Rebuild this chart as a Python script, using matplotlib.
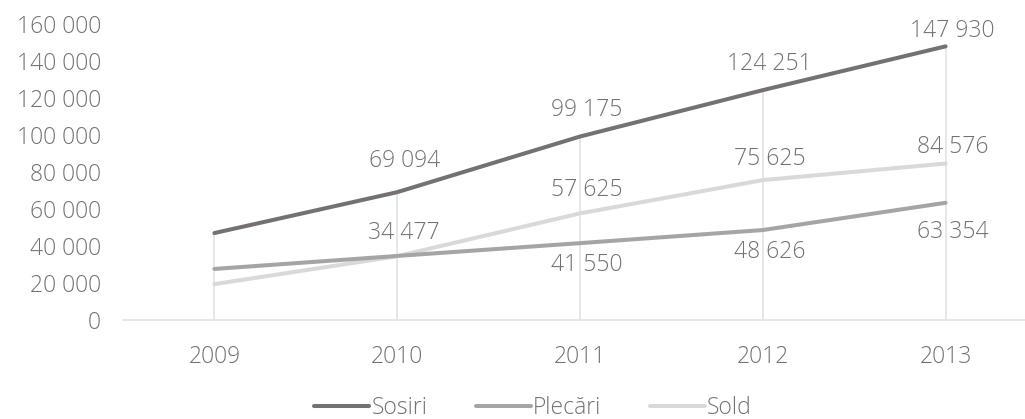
import matplotlib
matplotlib.use("Agg")
import matplotlib.pyplot as plt

years = [2009, 2010, 2011, 2012, 2013]
sosiri = [47000, 69094, 99175, 124251, 147930]
plecari = [27600, 34617, 41550, 48626, 63354]
sold = [19400, 34477, 57625, 75625, 84576]
yticks = [0, 20000, 40000, 60000, 80000, 100000, 120000, 140000, 160000]

# label flags: which points carry a value label
lab_sosiri = [False, True, True, True, True]
lab_plecari = [False, False, True, True, True]
lab_sold = [False, True, True, True, True]
# vertical label offsets in pixels (centre of text relative to point)
off_sosiri = [0, 31, 27, 26, 15]
off_sold = [0, 23, 23, 21, 17]
off_plecari = [0, 0, -22, -22, -29]

TXT = "#767171"
C_SOS = "#767171"
C_PLE = "#A5A5A5"
C_SOLD = "#D9D9D9"
GRID = "#E3E3E3"

plt.rcParams['font.family'] = ['Open Sans', 'DejaVu Sans']
plt.rcParams['font.weight'] = 300

def fmt(v):
    return f"{v:,}".replace(",", " ")

fig = plt.figure(figsize=(10.25, 4.19), dpi=100)
ax = fig.add_axes([123/1025, 1 - 320/419, (1037 - 123)/1025, 296/419])
ax.set_xlim(2008.5, 2013.5)
ax.set_ylim(0, 160000)

for spine in ['top', 'right', 'left']:
    ax.spines[spine].set_visible(False)
ax.spines['bottom'].set_color(GRID)
ax.spines['bottom'].set_linewidth(1.2)

# drop lines
tops = [max(a, b, c) for a, b, c in zip(sosiri, plecari, sold)]
ax.vlines(years, 0, tops, color=GRID, lw=1.2, zorder=1)

ax.plot(years, sold, color=C_SOLD, lw=2.9, solid_capstyle='round', label='Sold', zorder=3)
ax.plot(years, plecari, color=C_PLE, lw=2.9, solid_capstyle='round', label='Plecări', zorder=4)
ax.plot(years, sosiri, color=C_SOS, lw=2.9, solid_capstyle='round', label='Sosiri', zorder=5)

fs = 16.5
px = 0.72  # points per pixel at dpi 100
for series, flags, offs in [(sosiri, lab_sosiri, off_sosiri),
                            (sold, lab_sold, off_sold),
                            (plecari, lab_plecari, off_plecari)]:
    for x, v, f, o in zip(years, series, flags, offs):
        if f:
            ax.annotate(fmt(v), (x, v), xytext=(7 * px, o * px), textcoords='offset points',
                        ha='center', va='center', fontsize=fs, color=TXT, fontweight=300)

ax.set_xticks(years)
ax.set_xticklabels([str(y) for y in years], fontsize=fs, color=TXT, fontweight=300)
ax.set_yticks(yticks)
ax.set_yticklabels([fmt(v) for v in yticks], fontsize=fs, color=TXT, fontweight=300)
ax.tick_params(axis='both', length=0)
ax.tick_params(axis='x', pad=18)
ax.tick_params(axis='y', pad=16)

handles, labels = ax.get_legend_handles_labels()
order = [2, 1, 0]
fig.legend([handles[i] for i in order], [labels[i] for i in order],
           loc='center', bbox_to_anchor=(533/1025, 1 - 408/419), ncol=3,
           frameon=False, fontsize=fs, labelcolor=TXT, handlelength=2.4,
           handletextpad=0.1, columnspacing=2.1, prop={'size': fs, 'weight': 300})

fig.savefig("out.png", dpi=100)
